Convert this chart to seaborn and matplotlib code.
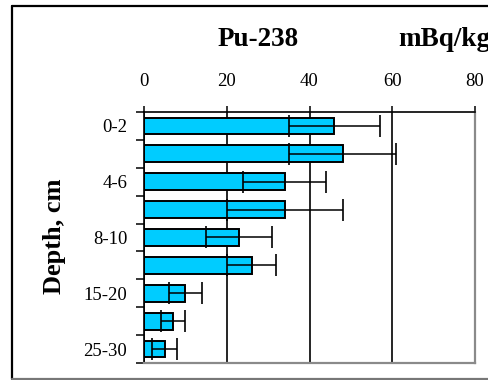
import numpy as np
import matplotlib
matplotlib.use("Agg")
import matplotlib.pyplot as plt
from matplotlib.lines import Line2D
import seaborn as sns

# Pu-238 activity by soil depth layer
depths = ["0-2", "2-4", "4-6", "6-8", "8-10", "10-15", "15-20", "20-25", "25-30"]
shown_labels = ["0-2", "", "4-6", "", "8-10", "", "15-20", "", "25-30"]
activity = [46, 48, 34, 34, 23, 26, 10, 7, 5]
uncertainty = [11, 13, 10, 14, 8, 6, 4, 3, 3]
x_ticks = [0, 20, 40, 60, 80]

sns.set_theme(style="white")
plt.rcParams["font.family"] = ["Liberation Serif", "DejaVu Serif"]
plt.rcParams["text.color"] = "black"

fig = plt.figure(figsize=(4.88, 3.8), dpi=100)
ax = fig.add_axes([144 / 488, 1 - 363 / 380, (475 - 144) / 488, (363 - 112) / 380])

sns.barplot(x=activity, y=depths, orient="h", color="#00CCFF", saturation=1,
            edgecolor="black", linewidth=1.4, width=0.6, errorbar=None, ax=ax)
ax.errorbar(activity, np.arange(len(depths)), xerr=uncertainty, fmt="none",
            ecolor="black", elinewidth=1.1, capsize=8, capthick=1.2, zorder=5)

ax.set_xlim(0, 80)
ax.set_ylim(len(depths) - 0.5, -0.5)
ax.set_xticks(x_ticks)
ax.xaxis.tick_top()
ax.tick_params(axis="x", top=True, bottom=False, direction="out", length=4,
               width=1.1, color="black", pad=12, labelsize=13.5, labelcolor="black")

# category boundaries carry the tick marks, centres carry the labels
ax.set_yticks(np.arange(-0.5, len(depths), 1))
ax.set_yticklabels([])
ax.set_yticks(np.arange(len(depths)), minor=True)
ax.set_yticklabels(shown_labels, minor=True)
ax.tick_params(axis="y", which="major", left=True, direction="out", length=6,
               width=1.1, color="black")
ax.tick_params(axis="y", which="minor", left=False, length=0, pad=12,
               labelsize=13.5, labelcolor="black")

ax.set_axisbelow(True)
ax.xaxis.grid(True, color="black", linewidth=1.2)
ax.yaxis.grid(False)
ax.set_xlabel("")
ax.set_ylabel("")

for side in ("top", "left"):
    ax.spines[side].set_color("black")
    ax.spines[side].set_linewidth(1.2)
for side in ("right", "bottom"):
    ax.spines[side].set_color("#8a8a8a")
    ax.spines[side].set_linewidth(1.6)
for side in ax.spines:
    ax.spines[side].set_visible(True)

fig.text(258 / 488, 1 - 40 / 380, "Pu-238", ha="center", va="center",
         fontsize=19.5, fontweight="bold", color="black")
fig.text(398 / 488, 1 - 40 / 380, "mBq/kg", ha="left", va="center",
         fontsize=19.5, fontweight="bold", color="black")
fig.text(54 / 488, 1 - 236 / 380, "Depth, cm", ha="center", va="center",
         rotation=90, fontsize=19, fontweight="bold", color="black")

# outer frame
fig.add_artist(Line2D([11.5 / 488, 11.5 / 488], [1 - 5.5 / 380, 1 - 379 / 380],
                      color="black", linewidth=1.6, transform=fig.transFigure))
fig.add_artist(Line2D([11.5 / 488, 1.0], [1 - 5.5 / 380, 1 - 5.5 / 380],
                      color="black", linewidth=1.6, transform=fig.transFigure))
fig.add_artist(Line2D([11.5 / 488, 1.0], [1 - 378.5 / 380, 1 - 378.5 / 380],
                      color="#777777", linewidth=1.6, transform=fig.transFigure))

fig.savefig("out.png", dpi=100)
